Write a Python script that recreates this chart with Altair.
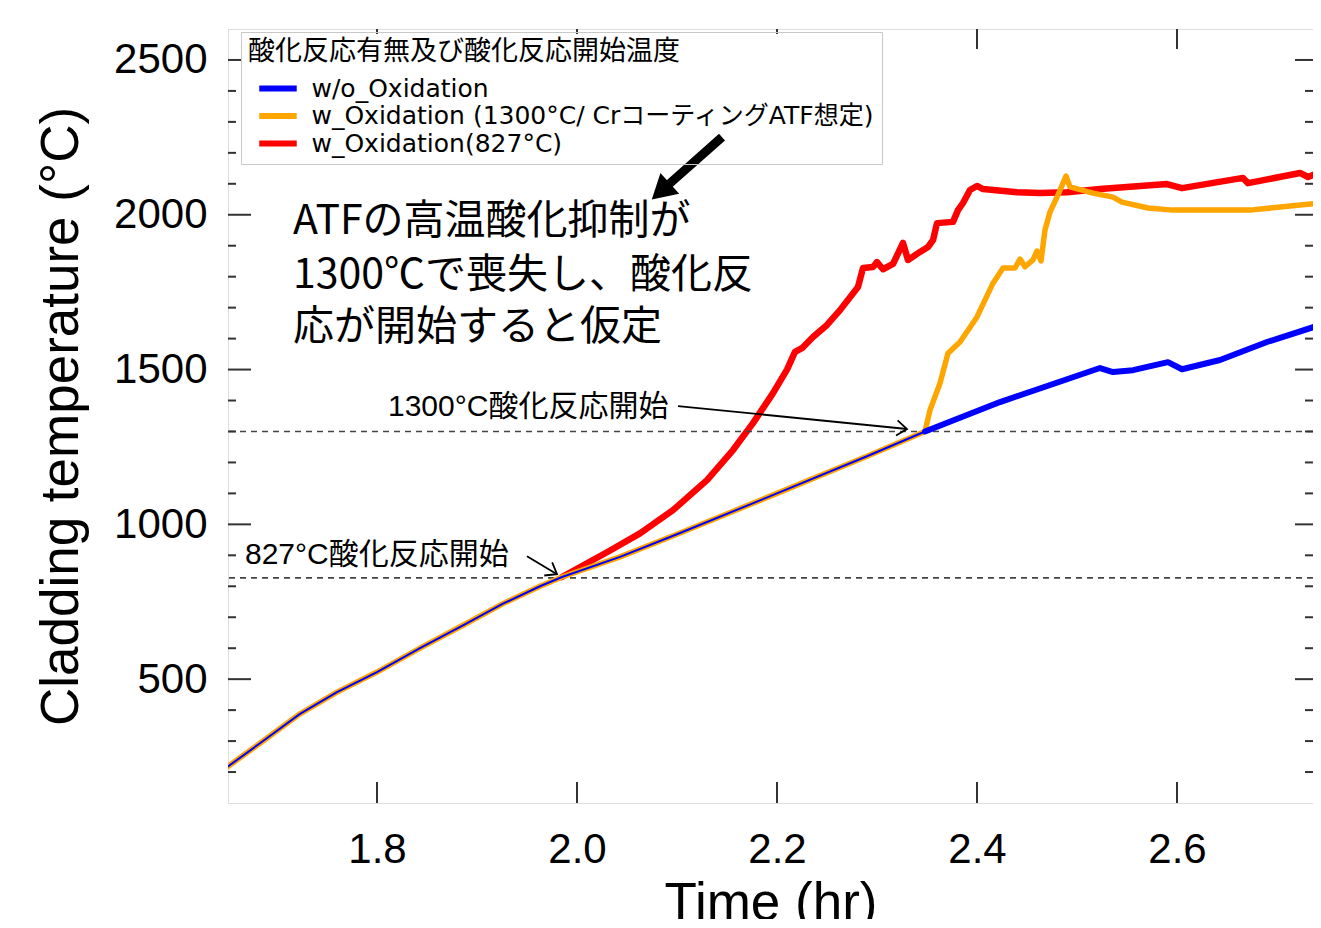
import altair as alt
import pandas as pd

# ---------------- data ----------------
series_names = ["w/o_Oxidation",
                "w_Oxidation (1300°C/ CrコーティングATF想定)",
                "w_Oxidation(827°C)"]
series_colors = ["#0000FF", "#FFA500", "#FF0000"]

# shared heat-up curve (blue and orange overlap until ~2.35 hr)
base_t = [1.651, 1.683, 1.723, 1.76, 1.80, 1.843, 1.886, 1.926, 1.963, 1.985,
          2.043, 2.10, 2.20, 2.29, 2.348]
base_T = [218, 293, 388, 458, 523, 600, 674, 744, 800, 830,
          895, 968, 1100, 1220, 1300]

blue_t = [2.348, 2.423, 2.523, 2.536, 2.556, 2.591, 2.605, 2.643, 2.69, 2.743]
blue_T = [1300, 1395, 1505, 1492, 1498, 1524, 1501, 1531, 1589, 1644]

orange_t = [2.348, 2.353, 2.363, 2.371, 2.383, 2.40, 2.416, 2.426, 2.438, 2.443,
            2.448, 2.456, 2.46, 2.464, 2.468, 2.473, 2.481, 2.489, 2.493, 2.516,
            2.536, 2.545, 2.571, 2.596, 2.673, 2.743]
orange_T = [1300, 1369, 1456, 1553, 1589, 1670, 1779, 1828, 1828, 1857,
            1832, 1854, 1883, 1851, 1951, 2009, 2064, 2125, 2090, 2070,
            2057, 2041, 2022, 2015, 2015, 2038]

red_t = [1.985, 2.03, 2.063, 2.096, 2.13, 2.156, 2.176, 2.196, 2.21, 2.218,
         2.225, 2.236, 2.25, 2.263, 2.281, 2.286, 2.296, 2.30, 2.306, 2.316,
         2.326, 2.331, 2.343, 2.351, 2.356, 2.36, 2.376, 2.381, 2.386, 2.393,
         2.40, 2.406, 2.44, 2.463, 2.49, 2.523, 2.59, 2.605, 2.666, 2.671,
         2.723, 2.731, 2.743]
red_T = [830, 910, 971, 1046, 1143, 1240, 1327, 1424, 1500, 1557,
         1569, 1605, 1644, 1692, 1767, 1828, 1831, 1847, 1824, 1841,
         1909, 1854, 1880, 1896, 1918, 1973, 1977, 2015, 2038, 2080,
         2093, 2083, 2073, 2070, 2073, 2083, 2099, 2086, 2119, 2102,
         2135, 2122, 2138]

onset_levels = [827, 1300]

x_major = [1.8, 2.0, 2.2, 2.4, 2.6]
x_major_under_legend = [1.8, 2.0, 2.2]
x_major_free = [2.4, 2.6]
y_major = [500, 1000, 1500, 2000, 2500]
y_major_free = [500, 1000, 1500, 2000]
y_major_under_legend = [2500]
y_minor = [200, 300, 400, 600, 700, 800, 900, 1100, 1200, 1300, 1400,
           1600, 1700, 1800, 1900, 2100, 2200, 2300, 2400]

small_text = ["827°C酸化反応開始", "1300°C酸化反応開始"]
small_t = [1.668, 1.811]
small_T = [900, 1379]

big_text = ["ATFの高温酸化抑制が", "1300℃で喪失し、酸化反", "応が開始すると仮定"]
big_t = [1.716, 1.716, 1.716]
big_T = [1977, 1802, 1634]

thin_arrow_t = [1.950, 2.101]
thin_arrow_T = [897, 1382]
thin_arrow_t2 = [1.980, 2.330]
thin_arrow_T2 = [839, 1308]
thin_arrow_angle = [31, 6]

big_arrow_t = [2.145]
big_arrow_T = [2251]
big_arrow_t2 = [2.0868]
big_arrow_T2 = [2084]
big_arrow_angle = [228]

# ---------------- layout ----------------
W, H = 1085, 774
X_DOMAIN = [1.651, 2.736]
Y_DOMAIN = [100, 2600]
FRAME = "#333333"
LATIN = "Liberation Sans"
JP = "Noto Sans CJK JP"

xs = alt.Scale(domain=X_DOMAIN, nice=False, zero=False)
ys = alt.Scale(domain=Y_DOMAIN, nice=False, zero=False)

color = alt.Color(
    "series:N",
    scale=alt.Scale(domain=series_names, range=series_colors),
    legend=alt.Legend(
        title="酸化反応有無及び酸化反応開始温度",
        orient="none", legendX=13, legendY=3,
        padding=7, strokeColor="#c8c8c8",
        titleFont=JP, titleFontSize=27, titleFontWeight="normal",
        titleColor="black", titlePadding=10, titleLimit=900,
        labelFont="DejaVu Sans, Noto Sans CJK JP", labelFontSize=25,
        labelColor="black", labelLimit=900,
        symbolType="M-3,0L3,0", symbolSize=156, symbolStrokeWidth=6,
        symbolOffset=17.5, labelOffset=21, rowPadding=1.5,
    ),
)

def line_df(name, t, T):
    return pd.DataFrame({"series": name, "t": t, "T": T})

df_blue_base = line_df(series_names[0], base_t, base_T)
df_blue_after = line_df(series_names[0], blue_t, blue_T)
df_orange = pd.concat([line_df(series_names[1], base_t, base_T),
                       line_df(series_names[1], orange_t[1:], orange_T[1:])])
df_red = line_df(series_names[2], red_t, red_T)

x_axis = alt.Axis(values=x_major, format=".1f", title="Time (hr)",
                  labelFont=LATIN, labelFontSize=42, labelPadding=26,
                  labelColor="black", labelOverlap=False, labelFlush=False,
                  titleFont=LATIN, titleFontSize=53, titleFontWeight="normal",
                  titleColor="black", titlePadding=7,
                  ticks=False, domain=False, grid=False)
y_axis = alt.Axis(values=y_major, format="d", title="Cladding temperature (°C)",
                  labelFont=LATIN, labelFontSize=42, labelPadding=21,
                  labelColor="black", labelOverlap=False, labelFlush=False,
                  titleFont=LATIN, titleFontSize=53, titleFontWeight="normal",
                  titleColor="black", titlePadding=25,
                  ticks=False, domain=False, grid=False)


def X(field):
    return alt.X(field, scale=xs, axis=x_axis)


def Y(field):
    return alt.Y(field, scale=ys, axis=y_axis)


def line_layer(df, width):
    return alt.Chart(df).mark_line(strokeWidth=width, clip=True,
                                   strokeJoin="round", strokeCap="round").encode(
        x=X("t:Q"), y=Y("T:Q"), color=color, order=alt.Order("t:Q"))

red_layer = line_layer(df_red, 6.5)
orange_layer = line_layer(df_orange, 5.5)
blue_base_layer = line_layer(df_blue_base, 2)
blue_after_layer = line_layer(df_blue_after, 6)

# dashed onset levels
dash_layer = alt.Chart(pd.DataFrame({"v": onset_levels})).mark_rule(
    strokeDash=[6, 5], color="#444444", strokeWidth=1.6).encode(y=Y("v:Q"))

# inward ticks on all four sides
def ytick(vals, x0, x1):
    return alt.Chart(pd.DataFrame({"v": vals})).mark_rule(
        color=FRAME, strokeWidth=2).encode(
        y=Y("v:Q"), x=alt.value(x0), x2=alt.value(x1))

def xtick(vals, y0, y1):
    return alt.Chart(pd.DataFrame({"v": vals})).mark_rule(
        color=FRAME, strokeWidth=2).encode(
        x=X("v:Q"), y=alt.value(y0), y2=alt.value(y1))

ticks = [ytick(y_major_free, 0, 23), ytick(y_major_under_legend, 0, 13),
         ytick(y_minor, 0, 8),
         ytick(y_major, W, W - 18), ytick(y_minor, W, W - 8),
         xtick(x_major, H, H - 21),
         xtick(x_major_free, 0, 20), xtick(x_major_under_legend, 0, 5)]

# annotations
small_layer = alt.Chart(pd.DataFrame({"t": small_t, "T": small_T, "txt": small_text})).mark_text(
    align="left", baseline="middle", font="Liberation Sans, Noto Sans CJK JP",
    fontSize=30, color="black").encode(x=X("t:Q"), y=Y("T:Q"), text="txt:N")

big_layer = alt.Chart(pd.DataFrame({"t": big_t, "T": big_T, "txt": big_text})).mark_text(
    align="left", baseline="middle", font=JP, fontSize=41, color="black").encode(
    x=X("t:Q"), y=Y("T:Q"), text="txt:N")

thin_df = pd.DataFrame({"t": thin_arrow_t, "T": thin_arrow_T, "t2": thin_arrow_t2,
                        "T2": thin_arrow_T2, "ang": thin_arrow_angle})
thin_shaft = alt.Chart(thin_df).mark_rule(color="black", strokeWidth=1.8).encode(
    x=X("t:Q"), y=Y("T:Q"), x2="t2:Q", y2="T2:Q")
thin_head = alt.Chart(thin_df).mark_point(
    shape="M-1,-0.75L0,0L-1,0.75", filled=False, size=420, color="black",
    strokeWidth=1.8, opacity=1).encode(
    x=X("t2:Q"), y=Y("T2:Q"), angle=alt.Angle("ang:Q", scale=None))

big_df = pd.DataFrame({"t": big_arrow_t, "T": big_arrow_T, "t2": big_arrow_t2,
                       "T2": big_arrow_T2, "ang": big_arrow_angle})
big_shaft = alt.Chart(big_df).mark_rule(color="black", strokeWidth=9).encode(
    x=X("t:Q"), y=Y("T:Q"), x2="t2:Q", y2="T2:Q")
big_head = alt.Chart(big_df).mark_point(
    shape="triangle", filled=True, size=784, color="black", opacity=1).encode(
    x=X("t2:Q"), y=Y("T2:Q"), angle=alt.Angle("ang:Q", scale=None))

chart = alt.layer(
    red_layer, dash_layer, *ticks,
    orange_layer, blue_base_layer, blue_after_layer,
    small_layer, big_layer, thin_shaft, thin_head, big_shaft, big_head,
).properties(
    width=W, height=H,
    autosize=alt.AutoSizeParams(type="none"),
    padding={"left": 220, "top": 21, "right": 0, "bottom": 116},
    background="white",
).configure_view(
    stroke=FRAME, strokeWidth=2.5
).configure(font=LATIN)

chart.save("out.html", embed_options={"renderer": "svg", "actions": False})
